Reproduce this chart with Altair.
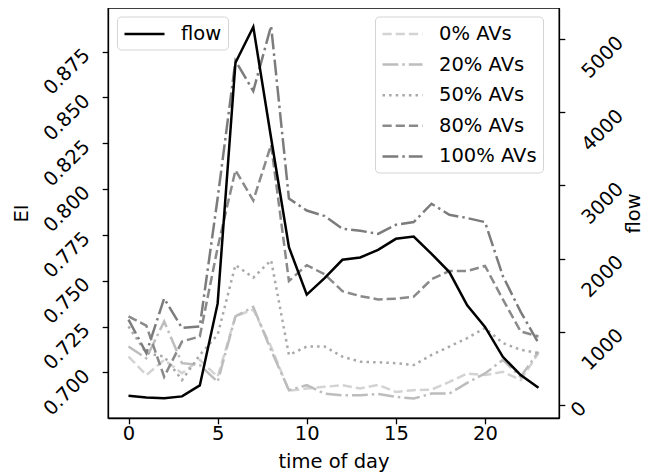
import altair as alt
import pandas as pd

hours = list(range(24))
flow = [123, 100, 87, 114, 264, 1383, 4680, 5170, 3650, 2155, 1506, 1733,
        1983, 2015, 2120, 2270, 2301, 2065, 1815, 1360, 1064, 655, 405, 232]

ei_0 = [0.7086, 0.6985, 0.7068, 0.6995, 0.7068, 0.6976, 0.7306, 0.7343,
        0.7140, 0.6900, 0.6912, 0.6921, 0.6930, 0.6912, 0.6932, 0.6893,
        0.6903, 0.6906, 0.6948, 0.6994, 0.6985, 0.7003, 0.6958, 0.7105]
ei_20 = [0.7141, 0.7077, 0.7278, 0.7050, 0.7040, 0.6948, 0.7306, 0.7357,
         0.7120, 0.6903, 0.6930, 0.6884, 0.6875, 0.6875, 0.6882, 0.6866,
         0.6857, 0.6884, 0.6884, 0.6943, 0.6994, 0.7068, 0.6976, 0.7113]
ei_50 = [0.7251, 0.7105, 0.7086, 0.6958, 0.7095, 0.7205, 0.7586, 0.7517,
         0.7612, 0.7095, 0.7141, 0.7141, 0.7086, 0.7058, 0.7055, 0.7050,
         0.7040, 0.7095, 0.7141, 0.7187, 0.7242, 0.7160, 0.7123, 0.7105]
ei_80 = [0.7306, 0.7255, 0.6976, 0.7168, 0.7196, 0.7680, 0.8103, 0.7938,
         0.8241, 0.7498, 0.7585, 0.7535, 0.7443, 0.7416, 0.7398, 0.7402,
         0.7413, 0.7508, 0.7553, 0.7553, 0.7581, 0.7398, 0.7223, 0.7196]
ei_100 = [0.7288, 0.7105, 0.7403, 0.7242, 0.7251, 0.7950, 0.8700, 0.8535,
          0.8890, 0.7948, 0.7883, 0.7853, 0.7783, 0.7773, 0.7755, 0.7805,
          0.7820, 0.7920, 0.7860, 0.7842, 0.7820, 0.7526, 0.7330, 0.7160]

series_labels = ["0% AVs", "20% AVs", "50% AVs", "80% AVs", "100% AVs"]
series_values = [ei_0, ei_20, ei_50, ei_80, ei_100]
series_colors = ["#d3d3d3", "#bdbdbd", "#a9a9a9", "#8a8a8a", "#7c7c7c"]
series_dashes = [[9.2, 4], [15.8, 4, 2.5, 4], [2.5, 4.1], [9.2, 4], [15.8, 4, 2.5, 4]]

x_ticks = [0, 5, 10, 15, 20]
ei_ticks = [0.700, 0.725, 0.750, 0.775, 0.800, 0.825, 0.850, 0.875]
flow_ticks = [0, 1000, 2000, 3000, 4000, 5000]

rows = []
for lab, vals in zip(series_labels, series_values):
    for h, v in zip(hours, vals):
        rows.append({"hour": h, "EI": v, "series": lab})
df_ei = pd.DataFrame(rows)
df_flow = pd.DataFrame({"hour": hours, "flow": flow, "name": ["flow"] * len(hours)})

FONT = "DejaVu Sans"
FS = 19.5
LW = 2.5

x_enc = alt.X("hour:Q",
              scale=alt.Scale(domain=[-1.15, 24.15], nice=False, zero=False),
              axis=alt.Axis(values=x_ticks, format="d", title="time of day",
                            labelPadding=1, titlePadding=9))

def mk_legend(lx, ly):
    return alt.Legend(orient="none", legendX=lx, legendY=ly, title=None,
                      symbolType="M-1,0H3", symbolSize=400, symbolStrokeWidth=LW,
                      labelFontSize=FS, labelFont=FONT, labelColor="black",
                      fillColor="rgba(255,255,255,0.8)", strokeColor="#d4d4d4",
                      cornerRadius=4, padding=6, rowPadding=9.6, labelOffset=35,
                      labelLimit=0)

leg_ei = mk_legend(267, 8.5)
ei_chart = alt.Chart(df_ei).mark_line(strokeWidth=LW, clip=True).encode(
    x=x_enc,
    y=alt.Y("EI:Q",
            scale=alt.Scale(domain=[0.6751, 0.8988], nice=False, zero=False),
            axis=alt.Axis(values=ei_ticks, format=".3f", title="EI", orient="left",
                          labelAngle=-45, labelAlign="right", labelBaseline="middle",
                          labelPadding=16, labelOverlap=False, titlePadding=8)),
    color=alt.Color("series:N", sort=series_labels,
                    scale=alt.Scale(domain=series_labels, range=series_colors),
                    legend=leg_ei),
    strokeDash=alt.StrokeDash("series:N", sort=series_labels,
                              scale=alt.Scale(domain=series_labels, range=series_dashes),
                              legend=leg_ei),
)

flow_chart = alt.Chart(df_flow).mark_line(strokeWidth=LW, clip=True).encode(
    x=x_enc,
    y=alt.Y("flow:Q",
            scale=alt.Scale(domain=[-182, 5429], nice=False, zero=False),
            axis=alt.Axis(values=flow_ticks, format="d", title="flow", orient="right",
                          labelAngle=-45, labelAlign="right", labelBaseline="middle",
                          labelOverlap=False,
                          labelPadding={"condition": {"test": "datum.value == 0", "value": 18},
                                        "value": 55},
                          titleAngle=270, titleBaseline="top", titlePadding=-2)),
    color=alt.Color("name:N", scale=alt.Scale(domain=["flow"], range=["black"]),
                    legend=mk_legend(9, 8.5)),
)

chart = alt.layer(ei_chart, flow_chart).resolve_scale(
    y="independent", color="independent", strokeDash="independent"
).properties(
    width=451, height=410,
    autosize=alt.AutoSizeParams(type="none"),
    padding={"left": 100, "top": 0, "right": 86, "bottom": 55},
).configure_view(
    stroke="black", strokeWidth=1.3
).configure_axis(
    labelFont=FONT, titleFont=FONT, labelFontSize=FS, titleFontSize=FS,
    titleFontWeight="normal", labelColor="black", titleColor="black",
    tickColor="black", domainColor="black", domainWidth=1.3, tickWidth=1.3,
    tickSize=5.8, grid=False
)

chart.save("out.html", embed_options={"renderer": "svg", "actions": False})
